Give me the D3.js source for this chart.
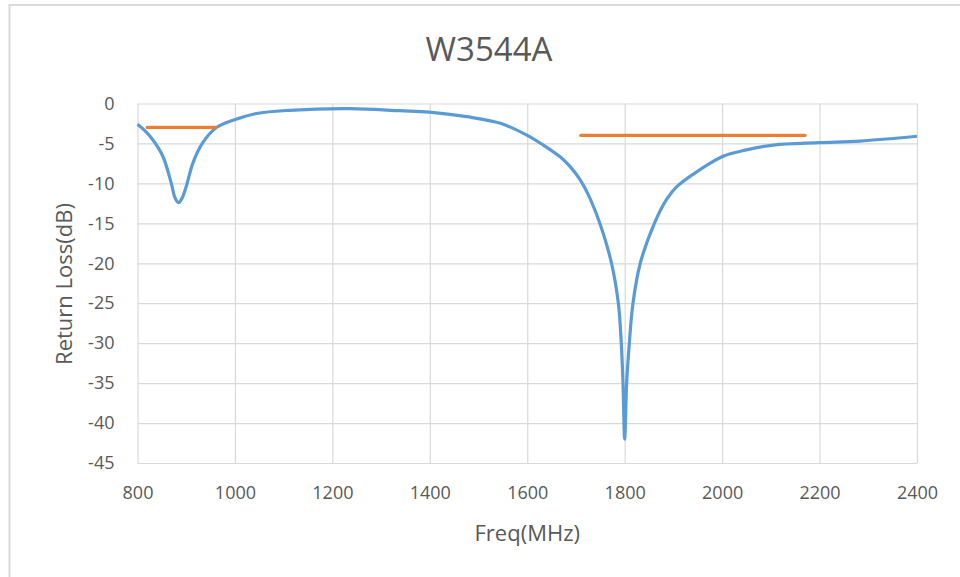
<!DOCTYPE html>
<html>
<head>
<meta charset="utf-8">
<script src="https://cdn.jsdelivr.net/npm/d3@7"></script>
<style>
  body { margin: 0; background: #fff; }
  text { font-family: "Open Sans", sans-serif; fill: #595959; }
</style>
</head>
<body>
<div id="viz"></div>
<script>
const width = 960;
const height = 577;
const margin = {top: 103.5, right: 43, bottom: 114, left: 137.5};

// Return loss curve
const freqMHz = [800, 815, 831, 852, 869, 877, 884, 891, 900, 914, 934, 962, 996, 1044, 1112, 1235,
  1339, 1399, 1476, 1545, 1599, 1633, 1668, 1688, 1708, 1729, 1749, 1773, 1787, 1793, 1796.5,
  1800, 1804, 1809.5, 1817, 1832, 1861, 1886, 1907, 1954, 2002, 2050, 2105, 2200, 2283, 2400];
const returnLoss = [-2.6, -3.4, -4.5, -6.6, -9.9, -11.8, -12.4, -11.9, -10.4, -7.4, -4.9, -3.0, -2.1, -1.25, -0.85, -0.65,
  -0.9, -1.07, -1.65, -2.48, -3.95, -5.2, -6.7, -7.9, -9.5, -11.9, -15.0, -20.0, -25.0, -30.0, -35.0,
  -42.0, -35.0, -30.0, -25.0, -20.0, -15.0, -12.0, -10.4, -8.3, -6.6, -5.8, -5.2, -4.9, -4.7, -4.1];

// Spec limit lines (orange)
const specBands = [
  {f0: 820, f1: 960, level: -3},
  {f0: 1710, f1: 2170, level: -4}
];

const xTicks = [800, 1000, 1200, 1400, 1600, 1800, 2000, 2200, 2400];
const yTicks = [0, -5, -10, -15, -20, -25, -30, -35, -40, -45];

const chart = d3.select('#viz')
  .append('svg')
  .attr('width', width)
  .attr('height', height);

// chart frame
chart.append('rect')
  .attr('x', 9.5)
  .attr('y', 5)
  .attr('width', 1000)
  .attr('height', 700)
  .attr('fill', 'none')
  .attr('stroke', '#d9d9d9')
  .attr('stroke-width', 2);

const xScale = d3.scaleLinear()
  .domain([800, 2400])
  .range([margin.left, width - margin.right]);

const yScale = d3.scaleLinear()
  .domain([-45, 0])
  .range([height - margin.bottom, margin.top]);

const plotW = width - margin.right - margin.left;
const plotH = height - margin.bottom - margin.top;

// X axis + vertical grid
const xAxis = chart.append('g')
  .attr('transform', `translate(0, ${height - margin.bottom})`)
  .call(d3.axisBottom(xScale).tickValues(xTicks).tickSize(-plotH).tickPadding(23).tickFormat(d => String(d)));

// Y axis + horizontal grid
const yAxis = chart.append('g')
  .attr('transform', `translate(${margin.left}, 0)`)
  .call(d3.axisLeft(yScale).tickValues(yTicks).tickSize(-plotW).tickPadding(23).tickFormat(d => String(d)));

[xAxis, yAxis].forEach(ax => {
  ax.select('.domain').remove();
  ax.selectAll('line').attr('stroke', '#d9d9d9').attr('stroke-width', 1.2);
  ax.selectAll('text')
    .style('font-family', '"Open Sans", sans-serif')
    .style('font-size', '18px')
    .attr('fill', '#595959');
});

// Curve
const curve = freqMHz.map((f, i) => ({f: f, v: returnLoss[i]}));
const lineGen = d3.line()
  .x(d => xScale(d.f))
  .y(d => yScale(d.v))
  .curve(d3.curveCatmullRom.alpha(0.5));

chart.append('path')
  .attr('d', lineGen(curve))
  .attr('fill', 'none')
  .attr('stroke', '#5b9bd5')
  .attr('stroke-width', 3.2)
  .attr('stroke-linejoin', 'round');

// Spec lines
chart.selectAll('.spec')
  .data(specBands)
  .join('line')
    .attr('class', 'spec')
    .attr('x1', d => xScale(d.f0))
    .attr('x2', d => xScale(d.f1))
    .attr('y1', d => yScale(d.level))
    .attr('y2', d => yScale(d.level))
    .attr('stroke', '#ed7d31')
    .attr('stroke-width', 3.2)
    .attr('stroke-linecap', 'round');

// Titles
chart.append('text')
  .attr('x', 489)
  .attr('y', 61)
  .attr('text-anchor', 'middle')
  .style('font-size', '33px')
  .text('W3544A');

chart.append('text')
  .attr('x', xScale(1600))
  .attr('y', 541)
  .attr('text-anchor', 'middle')
  .style('font-size', '22px')
  .text('Freq(MHz)');

chart.append('text')
  .attr('transform', `translate(72, 284) rotate(-90)`)
  .attr('text-anchor', 'middle')
  .style('font-size', '22px')
  .text('Return Loss(dB)');
</script>
</body>
</html>
